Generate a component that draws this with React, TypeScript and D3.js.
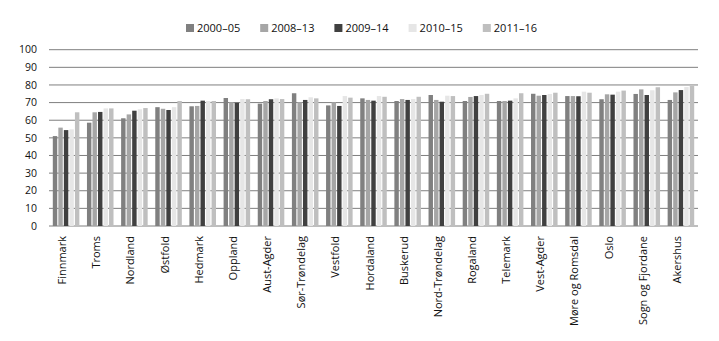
import React from "react";
import * as d3 from "d3";

const categories = [
  "Finnmark", "Troms", "Nordland", "Østfold", "Hedmark", "Oppland", "Aust-Agder",
  "Sør-Trøndelag", "Vestfold", "Hordaland", "Buskerud", "Nord-Trøndelag", "Rogaland",
  "Telemark", "Vest-Agder", "Møre og Romsdal", "Oslo", "Sogn og Fjordane", "Akershus",
];
const seriesNames = ["2000–05", "2008–13", "2009–14", "2010–15", "2011–16"];
const s2000_05 = [51.0, 58.6, 61.1, 67.4, 67.9, 72.6, 69.4, 75.3, 68.4, 72.4, 70.9, 74.3, 70.9, 70.9, 75.0, 73.7, 71.9, 74.9, 71.5];
const s2008_13 = [55.8, 64.5, 63.3, 66.5, 68.1, 70.2, 70.9, 70.2, 70.2, 71.5, 72.0, 71.5, 73.2, 70.9, 73.9, 73.7, 74.7, 77.5, 75.8];
const s2009_14 = [54.4, 64.7, 65.4, 65.8, 71.1, 69.9, 71.9, 71.5, 68.1, 71.1, 71.5, 70.5, 73.7, 71.1, 74.3, 73.6, 74.5, 74.3, 77.1];
const s2010_15 = [54.8, 66.7, 66.2, 67.4, 70.9, 72.0, 72.4, 73.0, 73.7, 73.7, 72.0, 73.9, 74.3, 72.4, 74.9, 76.2, 76.2, 77.0, 78.8];
const s2011_16 = [64.5, 66.7, 66.9, 70.9, 70.9, 71.9, 72.0, 72.4, 72.8, 73.3, 73.3, 73.7, 75.0, 75.3, 75.6, 75.6, 76.8, 78.7, 79.4];
const seriesValues = [s2000_05, s2008_13, s2009_14, s2010_15, s2011_16];
const seriesColors = ["#808080", "#a6a6a6", "#404040", "#e6e6e6", "#bfbfbf"];
const yTicks = [0, 10, 20, 30, 40, 50, 60, 70, 80, 90, 100];

const FONT = "'Open Sans', sans-serif";

export default function App() {
  const x = d3.scaleBand<string>().domain(categories).range([49, 698]).paddingInner(0).paddingOuter(0);
  const inner = d3
    .scaleBand<string>()
    .domain(seriesNames)
    .range([3.8, x.bandwidth() - 3.8])
    .paddingInner(0.2)
    .paddingOuter(0);
  const y = d3.scaleLinear().domain([0, 100]).range([226, 49.7]);

  return (
    <div style={{ position: "absolute", left: 0, top: 0 }}>
      <svg width={719} height={341} style={{ display: "block", background: "#fff" }}>
        {yTicks.map((t) => (
          <line key={t} x1={49} x2={698} y1={y(t)} y2={y(t)} stroke="#7f7f7f" strokeWidth={1} />
        ))}
        {yTicks.map((t) => (
          <text key={"l" + t} x={37} y={y(t)} dy="0.35em" textAnchor="end" fontFamily={FONT} fontSize={10.5} fill="#111">
            {t}
          </text>
        ))}
        {categories.map((c, i) => (
          <g key={c} transform={`translate(${x(c)},0)`}>
            {seriesNames.map((s, j) => (
              <rect
                key={s}
                x={inner(s)}
                width={inner.bandwidth()}
                y={y(seriesValues[j][i])}
                height={y(0) - y(seriesValues[j][i])}
                fill={seriesColors[j]}
              />
            ))}
          </g>
        ))}
        {categories.map((c) => {
          const cx = (x(c) as number) + x.bandwidth() / 2;
          return (
            <text
              key={"c" + c}
              transform={`translate(${cx},236) rotate(-90)`}
              textAnchor="end"
              fontFamily={FONT}
              fontSize={11}
              fill="#111"
            >
              {c}
            </text>
          );
        })}
        {seriesNames.map((s, j) => (
          <g key={"lg" + s} transform={`translate(${186 + j * 74.2},24)`}>
            <rect x={0} y={0} width={8} height={8} fill={seriesColors[j]} />
            <text x={11} y={4} dy="0.36em" fontFamily={FONT} fontSize={11} fill="#111">
              {s}
            </text>
          </g>
        ))}
      </svg>
    </div>
  );
}
